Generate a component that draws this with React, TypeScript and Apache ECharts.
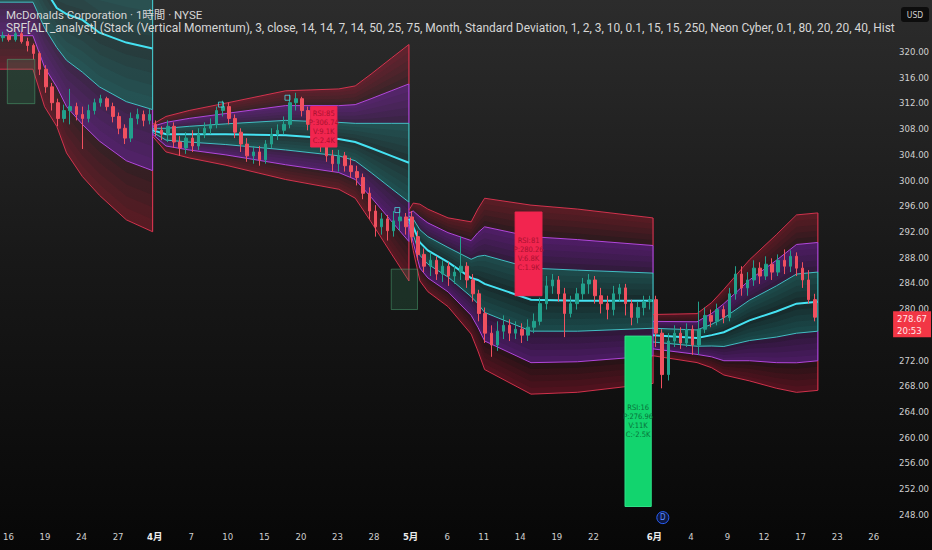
import React, { useEffect, useRef } from "react";
import * as echarts from "echarts";

// ---------- texts ----------
const titleLine = "McDonalds Corporation · 1時間 · NYSE";
const indicatorLine =
  "SRF[ALT_analyst] (Stack (Vertical Momentum), 3, close, 14, 14, 7, 14, 50, 25, 75, Month, Standard Deviation, 1, 2, 3, 10, 0.1, 15, 15, 250, Neon Cyber, 0.1, 80, 20, 20, 40, Hist";
const currency = "USD";

// ---------- time axis (one slot = half a trading day) ----------
const slotCount = 146;
const timeLabels = ["16", "19", "24", "27", "4月", "7", "10", "15", "20", "23", "28", "5月", "6", "11", "14", "19", "22", "6月", "4", "9", "12", "17", "23", "26"];
const timeLabelSlots = [1, 7, 13, 19, 25, 31, 37, 43, 49, 55, 61, 67, 73, 79, 85, 91, 97, 107, 113, 119, 125, 131, 137, 143];
const monthLabels = ["4月", "5月", "6月"];

// ---------- price axis ----------
const priceMin = 244;
const priceMax = 328;
const priceStep = 4;
const priceLabelLow = 248;
const priceLabelHigh = 320;
const priceLabelsHidden = [276]; // covered by the last-price tag
const lastPrice = 278.67;
const countdown = "20:53";

// ---------- candles: [open, close, low, high] ----------
const marchBars = [
  [322.14, 322.45, 321.53, 323.06], [322.45, 321.84, 321.53, 322.76], [321.84, 322.76, 321.53, 323.06],
  [322.76, 321.53, 321.23, 323.06], [321.53, 320.92, 320.0, 322.14], [320.92, 319.69, 318.77, 321.23],
  [319.69, 317.24, 316.32, 320.0], [317.24, 314.49, 313.57, 317.86], [314.49, 312.03, 310.81, 315.1],
  [312.03, 309.58, 308.36, 312.65], [309.58, 310.81, 308.97, 311.73], [310.81, 311.42, 308.66, 314.18],
  [311.42, 310.2, 309.28, 312.03], [310.2, 309.58, 304.83, 311.42], [309.58, 310.81, 308.97, 311.73],
  [310.81, 312.03, 310.2, 312.65], [312.03, 312.65, 311.42, 313.26], [312.65, 311.42, 310.81, 312.95],
  [311.42, 309.89, 308.97, 312.03], [309.89, 308.05, 307.13, 310.5], [308.05, 306.52, 305.6, 308.66],
  [306.52, 309.58, 305.91, 310.5], [309.58, 310.2, 308.66, 311.11], [310.2, 309.28, 308.36, 310.81],
  [309.28, 310.2, 308.66, 311.11],
];
const aprilBars = [
  [308.66, 307.74, 306.83, 309.28], [307.74, 307.13, 306.21, 308.36], [307.13, 308.36, 305.91, 309.28],
  [308.36, 305.91, 304.99, 308.97], [305.91, 304.99, 303.76, 306.83], [304.99, 306.52, 304.07, 307.44],
  [306.52, 305.29, 304.37, 307.74], [305.29, 307.13, 304.68, 308.05], [307.13, 308.05, 306.52, 308.97],
  [308.05, 308.66, 307.13, 309.58], [308.66, 310.81, 308.05, 311.42], [310.81, 311.42, 309.89, 312.34],
  [311.42, 309.58, 308.66, 312.03], [309.58, 307.44, 306.52, 310.2], [307.44, 305.6, 304.37, 308.05],
  [305.6, 303.76, 302.84, 306.52], [303.76, 304.37, 302.54, 305.29], [304.37, 303.15, 302.23, 305.29],
  [303.15, 305.6, 302.54, 306.21], [305.6, 307.13, 304.99, 308.05], [307.13, 307.74, 306.21, 308.66],
  [307.74, 308.66, 307.13, 309.89], [308.66, 312.03, 308.05, 313.26], [312.03, 312.65, 310.81, 313.57],
  [312.65, 310.81, 309.89, 312.95], [310.81, 308.66, 307.74, 311.42], [308.66, 306.83, 305.91, 309.58],
  [306.83, 305.29, 304.37, 307.44], [305.29, 303.76, 302.84, 306.21], [303.76, 302.54, 301.31, 304.68],
  [302.54, 303.76, 301.31, 304.68], [303.76, 302.23, 301.31, 304.37], [302.23, 301.31, 300.4, 303.46],
  [301.31, 300.4, 299.17, 302.23], [300.4, 297.94, 297.02, 301.01], [297.94, 295.18, 293.96, 298.86],
  [295.18, 292.73, 291.2, 296.1], [292.73, 293.96, 291.51, 294.88], [293.96, 292.12, 290.59, 294.57],
  [292.12, 293.65, 291.2, 295.18], [293.65, 294.26, 292.12, 295.49], [294.26, 292.73, 291.51, 294.88],
];
const mayBars = [
  [294.26, 291.2, 290.28, 295.18], [291.2, 288.44, 287.52, 292.12], [288.44, 286.6, 285.68, 289.36],
  [286.6, 287.52, 285.07, 288.75], [287.52, 285.38, 284.46, 288.14], [285.38, 286.6, 284.15, 287.52],
  [286.6, 285.07, 283.54, 287.22], [285.07, 285.68, 283.85, 286.6], [285.68, 286.6, 284.46, 291.2],
  [286.6, 284.46, 283.23, 287.22], [284.46, 282.31, 281.09, 285.38], [282.31, 279.25, 278.03, 282.93],
  [279.25, 276.19, 274.66, 280.17], [276.19, 274.35, 272.51, 277.41], [274.35, 276.49, 273.43, 278.03],
  [276.49, 277.41, 275.27, 278.95], [277.41, 276.19, 274.96, 278.34], [276.19, 276.8, 275.27, 278.03],
  [276.8, 275.88, 274.66, 277.72], [275.88, 277.11, 274.96, 278.34], [277.11, 278.03, 276.19, 279.25],
  [278.03, 280.78, 277.41, 281.7], [280.78, 283.54, 279.86, 285.07], [283.54, 284.46, 282.31, 285.38],
  [284.46, 282.31, 281.09, 285.07], [282.31, 279.25, 275.57, 283.23], [279.25, 280.78, 278.64, 282.01],
  [280.78, 282.31, 279.86, 283.23], [282.31, 283.85, 281.4, 284.77], [283.85, 284.46, 282.31, 285.38],
  [284.46, 282.01, 280.78, 285.07], [282.01, 280.78, 279.25, 283.23], [280.78, 279.86, 278.34, 282.01],
  [279.86, 282.31, 278.95, 283.54], [282.31, 283.23, 281.09, 283.85], [283.23, 280.78, 278.95, 283.85],
  [280.78, 278.64, 277.41, 281.4], [278.64, 280.17, 277.72, 281.09], [280.17, 281.09, 278.95, 282.01],
  [281.09, 281.4, 279.86, 282.01],
];
const juneBars = [
  [281.4, 276.19, 274.04, 282.01], [276.19, 269.75, 267.61, 276.8], [269.75, 274.96, 268.83, 276.19],
  [274.96, 276.19, 274.04, 277.41], [276.19, 274.66, 273.74, 277.11], [274.66, 276.8, 274.04, 277.72],
  [276.8, 274.35, 272.82, 277.41], [274.35, 276.8, 272.82, 281.09], [276.8, 278.95, 276.19, 280.17],
  [278.95, 278.03, 277.11, 279.86], [278.03, 279.86, 277.41, 280.78], [279.86, 278.64, 277.72, 280.48],
  [278.64, 282.31, 278.03, 283.23], [282.31, 285.38, 281.4, 286.6], [285.38, 283.23, 282.01, 286.6],
  [283.23, 284.46, 282.01, 285.68], [284.46, 286.3, 283.54, 287.52], [286.3, 285.07, 283.85, 287.22],
  [285.07, 286.91, 284.46, 288.14], [286.91, 285.68, 284.46, 287.83], [285.68, 287.52, 285.07, 288.44],
  [287.52, 286.6, 285.38, 289.21], [286.6, 288.14, 285.68, 289.06], [288.14, 286.3, 285.07, 288.75],
  [286.3, 284.46, 283.23, 287.22], [284.46, 281.4, 280.78, 285.99], [281.4, 278.67, 278.03, 282.31],
];

// ---------- monthly anchored deviation bands: [slot, mid, sd] ----------
const marchBand = [
  [0, 332.87, 5.21], [5.4, 332.87, 5.21], [7.3, 329.8, 6.13], [9.3, 326.74, 6.13], [10.9, 325.82, 7.2],
  [13.5, 324.9, 8.12], [16.3, 322.91, 8.43], [20.7, 321.38, 9.19], [25, 320.46, 9.5],
];
const aprilBand = [
  [25, 307.74, 0.31], [27.2, 307.13, 0.92], [31, 307.13, 1.23], [37, 307.13, 1.61], [46.8, 306.98, 2.3],
  [55.5, 306.37, 2.6], [58.2, 305.91, 2.91], [60.8, 304.99, 3.83], [64.1, 303.76, 5.06], [67, 302.69, 6.13],
];
const mayBand = [
  [67, 293.96, 0.46], [67.7, 292.73, 1.23], [68.8, 290.28, 1.99], [70.1, 289.06, 2.14], [73.4, 287.22, 2.3],
  [77.2, 284.77, 2.91], [78.3, 284.46, 3.68], [79.4, 283.85, 4.44], [87, 281.4, 4.9], [94.6, 281.24, 4.75],
  [107, 281.24, 4.29],
];
const juneBand = [
  [107, 275.88, 1.07], [114.2, 275.42, 1.27], [116.6, 275.88, 1.69], [118.6, 276.34, 2.22],
  [122.8, 278.18, 3.14], [127.2, 279.56, 3.98], [130.5, 280.78, 4.6], [134, 281.09, 4.6],
];

// ---------- signal boxes ----------
const boxKinds = ["dim", "sell", "dim", "sell", "buy"];
const boxSlots = [[1.2, 5.7], [50.9, 55.2], [64.1, 68.4], [84.4, 88.8], [102.4, 106.7]];
const boxPrices = [[318.77, 311.88], [311.42, 305.14], [286.14, 279.86], [295.03, 282.01], [275.73, 249.23]];
const boxTexts = [
  [],
  ["RSI:85", "P:306.74", "V:9.1K", "C:2.4K"],
  [],
  ["RSI:81", "P:280.26", "V:6.8K", "C:1.9K"],
  ["RSI:16", "P:276.96", "V:11K", "C:-2.5K"],
];

// small pivot markers and dividend marker: [slot, price]
const pivotMarks = [[36.2, 311.73], [47.1, 312.8], [65.1, 295.33]];
const dividendMark = [108.6, 247.5];

// ---------- styles ----------
const NARROW = '"Liberation Sans Narrow", "DejaVu Sans Condensed", "Noto Sans CJK JP", sans-serif';
const SANS = 'Roboto, "Noto Sans CJK JP", sans-serif';

// base: alpha of the whole band; step: alpha of each nested, outward-growing layer
const bandLayers = [
  { from: 2, to: 3, rgb: [210, 30, 62], base: 0.12, step: 0.065, line: "rgba(235,55,85,0.85)" },
  { from: 1, to: 2, rgb: [150, 40, 200], base: 0.22, step: 0.075, line: "rgba(190,75,235,0.9)" },
  { from: 0, to: 1, rgb: [40, 170, 172], base: 0.16, step: 0.065, line: "rgba(70,205,210,0.9)" },
];
const sliceCount = 4;
const boxStyles: any = {
  dim: { fill: "rgba(50,140,95,0.22)", stroke: "rgba(80,170,120,0.5)", text: "#0a6a35" },
  sell: { fill: "#f2254f", stroke: "#f2254f", text: "#a8122f" },
  buy: { fill: "#12d46e", stroke: "#2ee088", text: "#08723a" },
};

function buildOption() {
  const allBars = [...marchBars, ...aprilBars, ...mayBars, ...juneBars];
  const candleData = allBars.map((b, i) => [i + 0.5, b[0], b[1], b[2], b[3]]);
  const segments = [marchBand, aprilBand, mayBand, juneBand];

  const bandRender = (params: any, api: any) => {
    const seg = segments[params.dataIndex];
    const lvl = (k: number) => seg.map(([u, m, s]) => api.coord([u, m + k * s]));
    const poly = (a: number[][], b: number[][], fill: string) => ({
      type: "polygon",
      silent: true,
      shape: { points: a.concat(b.slice().reverse()) },
      style: { fill },
    });
    const children: any[] = [];
    bandLayers.forEach((L) => {
      const rgba = (a: number) => `rgba(${L.rgb[0]},${L.rgb[1]},${L.rgb[2]},${a})`;
      [1, -1].forEach((sg) => {
        children.push(poly(lvl(sg * L.from), lvl(sg * L.to), rgba(L.base)));
        for (let j = 1; j <= sliceCount; j++) {
          const k0 = L.from + ((L.to - L.from) * j) / (sliceCount + 1);
          children.push(poly(lvl(sg * k0), lvl(sg * L.to), rgba(L.step)));
        }
      });
    });
    bandLayers.forEach((L) => {
      [1, -1].forEach((sg) => {
        children.push({
          type: "polyline",
          silent: true,
          shape: { points: lvl(sg * L.to) },
          style: { stroke: L.line, lineWidth: 1, fill: null },
        });
      });
    });
    // closing vertical edge of the segment
    const last = seg[seg.length - 1];
    bandLayers.forEach((L) => {
      [1, -1].forEach((sg) => {
        const a = api.coord([last[0], last[1] + sg * L.from * last[2]]);
        const b = api.coord([last[0], last[1] + sg * L.to * last[2]]);
        children.push({
          type: "line",
          silent: true,
          shape: { x1: a[0], y1: a[1], x2: b[0], y2: b[1] },
          style: { stroke: L.line, lineWidth: 1.2 },
        });
      });
    });
    children.push({
      type: "polyline",
      silent: true,
      shape: { points: lvl(0) },
      style: { stroke: "#45e2f2", lineWidth: 2, fill: null },
    });
    return { type: "group", children };
  };

  const boxRender = (params: any, api: any) => {
    const i = params.dataIndex;
    const st = boxStyles[boxKinds[i]];
    const p0 = api.coord([boxSlots[i][0], boxPrices[i][0]]);
    const p1 = api.coord([boxSlots[i][1], boxPrices[i][1]]);
    const children: any[] = [
      {
        type: "rect",
        shape: { x: p0[0], y: p0[1], width: p1[0] - p0[0], height: p1[1] - p0[1] },
        style: { fill: st.fill, stroke: st.stroke, lineWidth: 1 },
      },
    ];
    if (boxTexts[i].length) {
      children.push({
        type: "text",
        style: {
          text: boxTexts[i].join("\n"),
          x: (p0[0] + p1[0]) / 2,
          y: (p0[1] + p1[1]) / 2,
          align: "center",
          verticalAlign: "middle",
          fill: st.text,
          fontSize: 7.5,
          fontFamily: NARROW,
          lineHeight: 9,
        },
      });
    }
    return { type: "group", children };
  };

  return {
    animation: false,
    backgroundColor: "transparent",
    grid: [
      { left: 0, right: 37, top: -8.22, height: 548.35 },
      { left: 0, right: 37, top: 522, height: 1 },
    ],
    xAxis: [
      { type: "value", gridIndex: 0, min: 0, max: slotCount, show: false },
      {
        type: "value",
        gridIndex: 1,
        min: 0,
        max: slotCount,
        interval: 1,
        axisLine: { show: false },
        axisTick: { show: false },
        splitLine: { show: false },
        axisLabel: {
          margin: 9,
          color: "#cfcfcf",
          fontSize: 9.5,
          fontFamily: NARROW,
          padding: [0, 6, 0, 0],
          formatter: (v: number) => {
            const k = timeLabelSlots.indexOf(Math.round(v));
            if (k < 0) return "";
            const t = timeLabels[k];
            return monthLabels.includes(t) ? `{m|${t}}` : t;
          },
          rich: { m: { fontWeight: "bold", color: "#ececec", fontSize: 9.5, fontFamily: NARROW } },
        },
      },
    ],
    yAxis: [
      {
        type: "value",
        gridIndex: 0,
        position: "right",
        min: priceMin,
        max: priceMax,
        interval: priceStep,
        axisLine: { show: false },
        axisTick: { show: false },
        splitLine: { show: false },
        axisLabel: {
          margin: 8,
          color: "#d0d0d0",
          fontSize: 9.5,
          fontFamily: NARROW,
          formatter: (v: number) =>
            v < priceLabelLow || v > priceLabelHigh || priceLabelsHidden.includes(v) ? "" : v.toFixed(2),
        },
      },
      { type: "value", gridIndex: 1, show: false, min: 0, max: 1 },
    ],
    series: [
      {
        type: "custom",
        name: "bands",
        xAxisIndex: 0,
        yAxisIndex: 0,
        z: 1,
        silent: true,
        renderItem: bandRender,
        data: segments.map((s, i) => [i, s[0][1]]),
      },
      {
        type: "candlestick",
        name: "MCD",
        xAxisIndex: 0,
        yAxisIndex: 0,
        z: 2,
        barWidth: 3,
        data: candleData,
        itemStyle: {
          color: "#22a08c",
          color0: "#f0505f",
          borderColor: "#22a08c",
          borderColor0: "#f0505f",
          borderWidth: 1,
        },
        markLine: {
          silent: true,
          symbol: ["none", "none"],
          lineStyle: { color: "rgba(0,0,0,0)" },
          data: [{ yAxis: lastPrice }],
          label: {
            position: "end",
            formatter: `${lastPrice.toFixed(2)}\n${countdown}`,
            backgroundColor: "#f23645",
            color: "#ffe6e9",
            fontSize: 9.5,
            fontFamily: NARROW,
            lineHeight: 12,
            padding: [1, 4, 1, 4],
            distance: 2,
            offset: [0, 7],
          },
        },
        markPoint: {
          silent: true,
          data: [
            {
              coord: dividendMark,
              symbol: "circle",
              symbolSize: 12,
              itemStyle: { color: "rgba(20,40,120,0.5)", borderColor: "#2962ff", borderWidth: 1 },
              label: { show: true, position: "inside", formatter: "D", color: "#5b8cff", fontSize: 8, fontFamily: NARROW },
            },
          ],
        },
      },
      {
        type: "scatter",
        name: "pivots",
        xAxisIndex: 0,
        yAxisIndex: 0,
        z: 3,
        symbol: "rect",
        symbolSize: 5,
        data: pivotMarks,
        itemStyle: { color: "rgba(0,0,0,0)", borderColor: "#4fd6e0", borderWidth: 1 },
      },
      {
        type: "custom",
        name: "signals",
        xAxisIndex: 0,
        yAxisIndex: 0,
        z: 4,
        silent: true,
        renderItem: boxRender,
        data: boxKinds.map((_, i) => [boxSlots[i][0], boxPrices[i][0]]),
      },
    ],
    graphic: [
      {
        type: "text",
        left: 6,
        top: 9,
        z: 100,
        style: { text: titleLine, fill: "#d6d6d6", fontSize: 11.5, fontFamily: SANS },
      },
      {
        type: "text",
        left: 6,
        top: 22,
        z: 100,
        style: { text: indicatorLine, fill: "#d6d6d6", fontSize: 11.95, fontFamily: SANS },
      },
      {
        type: "group",
        right: 3,
        top: 7,
        z: 100,
        children: [
          { type: "rect", shape: { x: 0, y: 0, width: 28, height: 15, r: 3 }, style: { fill: "#0d0d0d" } },
          {
            type: "text",
            x: 14,
            y: 7.5,
            style: { text: currency, align: "center", verticalAlign: "middle", fill: "#d0d0d0", fontSize: 8.5, fontFamily: NARROW },
          },
        ],
      },
    ],
  };
}

export default function App() {
  const ref = useRef<HTMLDivElement>(null);
  useEffect(() => {
    if (!ref.current) return;
    const chart = echarts.init(ref.current, null, { renderer: "svg" });
    chart.setOption(buildOption() as any);
    return () => chart.dispose();
  }, []);
  return (
    <div
      ref={ref}
      style={{
        position: "fixed",
        left: 0,
        top: 0,
        width: 932,
        height: 550,
        background: "linear-gradient(180deg, #2c2c2c 0%, #181818 48%, #070707 100%)",
      }}
    />
  );
}
